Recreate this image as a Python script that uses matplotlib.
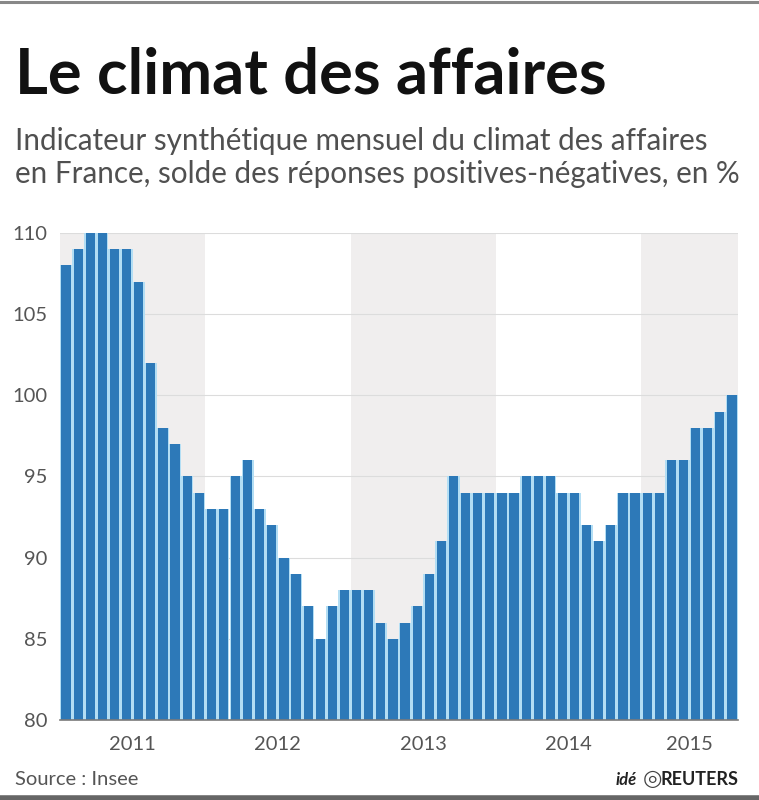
import matplotlib
matplotlib.use("Agg")
import matplotlib.pyplot as plt
import numpy as np

# Indicateur synthétique du climat des affaires, janv. 2011 - août 2015
values_2011 = [108, 109, 110, 110, 109, 109, 107, 102, 98, 97, 95, 94]
values_2012 = [93, 93, 95, 96, 93, 92, 90, 89, 87, 85, 87, 88]
values_2013 = [88, 88, 86, 85, 86, 87, 89, 91, 95, 94, 94, 94]
values_2014 = [94, 94, 95, 95, 95, 94, 94, 92, 91, 92, 94, 94]
values_2015 = [94, 94, 96, 96, 98, 98, 99, 100]
years = ["2011", "2012", "2013", "2014", "2015"]
y_ticks = [80, 85, 90, 95, 100, 105, 110]

series = [values_2011, values_2012, values_2013, values_2014, values_2015]
values = np.array(sum(series, []))
x = np.arange(len(values))

BLUE = "#2d79b8"
EDGE = "#b3def4"
BAND = "#f0eeee"
FONT = "Lato"

fig = plt.figure(figsize=(7.59, 8.0), dpi=100)
ax = fig.add_axes([60 / 759, 80 / 800, 678 / 759, 487 / 800])

# shaded year bands (2011, 2013, 2015)
start = 0
for i, s in enumerate(series):
    end = start + len(s)
    if i % 2 == 0:
        ax.axvspan(start - 0.5, end - 0.5, color=BAND, zorder=0, lw=0)
    ax.text((start + end - 1) / 2, -0.033, years[i], transform=ax.get_xaxis_transform(),
            ha="center", va="top", fontsize=14.5, color="#555555", family=FONT)
    start = end

for t in y_ticks[1:]:
    ax.axhline(t, color="#dcdcdc", lw=0.8, zorder=1)

ax.bar(x, values - 80, bottom=80, width=1.0, color=EDGE, zorder=2, lw=0)
ax.bar(x, values - 80, bottom=80, width=0.76, color=BLUE, zorder=3, lw=0)

ax.set_xlim(-0.5, len(values) - 0.5)
ax.set_ylim(80, 110)
ax.set_yticks(y_ticks)
ax.set_yticklabels([str(t) for t in y_ticks], fontsize=14.5, color="#555555", family=FONT)
ax.tick_params(axis="y", length=0, pad=9)
ax.set_xticks([])
for side in ["top", "right", "left"]:
    ax.spines[side].set_visible(False)
ax.spines["bottom"].set_color("#7a7a7a")
ax.spines["bottom"].set_linewidth(1.2)
ax.spines["bottom"].set_zorder(4)

fig.text(15 / 759, 1 - 94 / 800, "Le climat des affaires", fontsize=45.5, fontweight="bold",
         color="#111111", family=FONT, ha="left", va="baseline")
fig.text(15 / 759, 1 - 150 / 800, "Indicateur synthétique mensuel du climat des affaires",
         fontsize=21.3, color="#505050", family=FONT, ha="left", va="baseline")
fig.text(15 / 759, 1 - 183 / 800, "en France, solde des réponses positives-négatives, en %",
         fontsize=21.3, color="#505050", family=FONT, ha="left", va="baseline")

fig.text(15 / 759, 1 - 785 / 800, "Source : Insee", fontsize=14.5, color="#555555",
         family=FONT, ha="left", va="baseline")
fig.text(738 / 759, 1 - 785 / 800, "REUTERS", fontsize=13, fontweight="bold", color="#222222",
         family=FONT, ha="right", va="baseline")
fig.text(652 / 759, 1 - 779 / 800, "\u25CE", fontsize=16, color="#444444",
         family="DejaVu Sans", ha="center", va="center")
fig.text(637 / 759, 1 - 785 / 800, "idé", fontsize=12, fontweight="bold", style="italic",
         color="#222222", family=FONT, ha="right", va="baseline")

# frame lines at top and bottom
fig.add_artist(plt.Line2D([0, 1], [1 - 1.5 / 800, 1 - 1.5 / 800], color="#888888", lw=2.2))
fig.add_artist(plt.Line2D([0, 1], [2.5 / 800, 2.5 / 800], color="#666666", lw=4))

fig.savefig("out.png", dpi=100)
